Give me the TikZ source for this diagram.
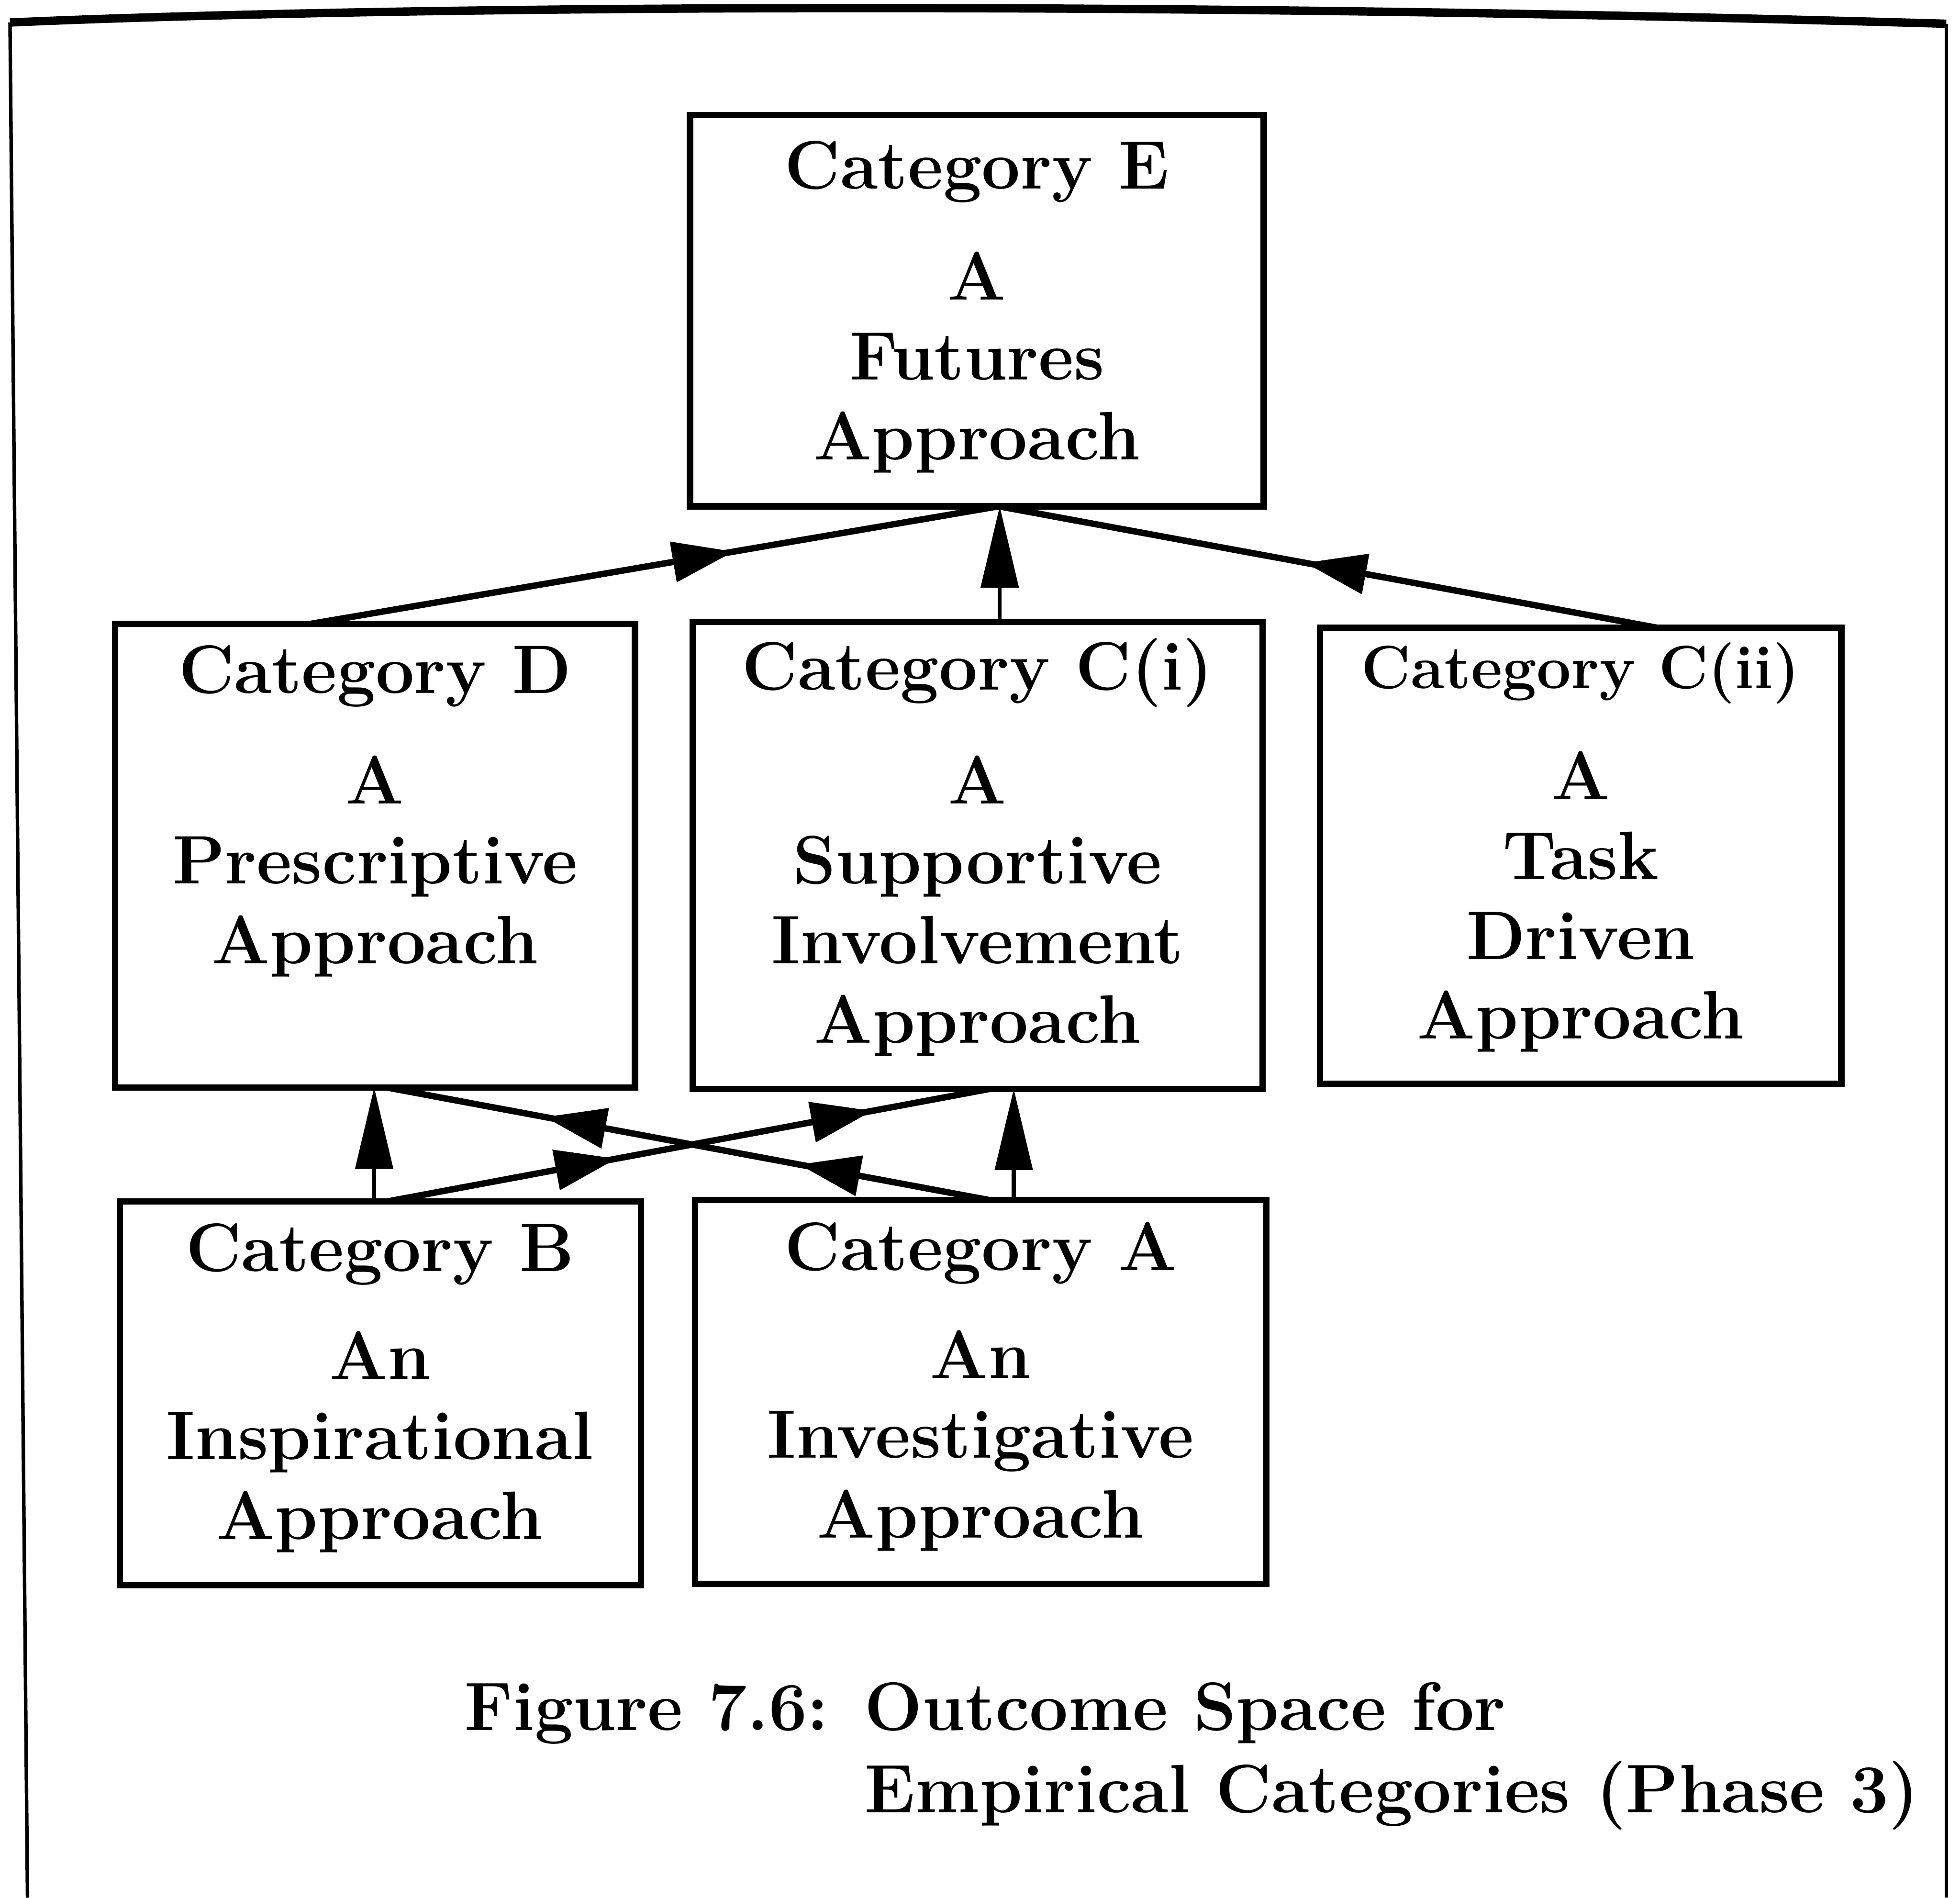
\documentclass[tikz,border=0pt]{standalone}
\usetikzlibrary{arrows.meta,decorations.markings,calc,fit}
\begin{document}
\begin{tikzpicture}[x=0.01cm,y=-0.01cm,
  box/.style={draw, line width=1.45pt, inner sep=0pt, outer sep=0pt, rectangle},
  ttl/.style={anchor=base, inner sep=0pt, font=\fontsize{15.6}{18.15}\selectfont\bfseries},
  ttlsmall/.style={ttl, font=\fontsize{13.9}{18.15}\selectfont\bfseries},
  body/.style={anchor=north, inner sep=0pt, align=center, font=\fontsize{15.6}{18.15}\selectfont\bfseries},
  capt/.style={anchor=base west, inner sep=0pt, font=\fontsize{15.6}{18.15}\selectfont\bfseries},
  frame/.style={line width=0.8pt},
  vlink/.style={line width=0.9pt, -{Triangle[length=18.5pt,width=8.5pt]}},
  dlink/.style={line width=1.45pt},
  midhead/.style={postaction={decorate}, decoration={markings,
      mark=at position #1 with {\arrow{Triangle[length=14pt,width=9pt]}}}},
]
\useasboundingbox (0,0) rectangle (1568,1518);

% outer frame, open at the bottom
\coordinate (frTL) at (8,18);
\coordinate (frTR) at (1557,19);
\coordinate (frBL) at (22,1518);
\coordinate (frBR) at (1557,1518);
\draw[line width=1.9pt] (frTL) .. controls (300,5) and (900,0) .. (frTR);
\draw[frame] (frTL) -- (frBL);
\draw[frame] (frTR) -- (frBR);

% category boxes
\node[box, fit={(552,92) (1011,405)}] (E) {};
\node[box, fit={(92,499) (508,870)}] (D) {};
\node[box, fit={(554,497.5) (1010,871)}] (Ci) {};
\node[box, fit={(1056,502) (1473,867)}] (Cii) {};
\node[box, fit={(96,961) (512.7,1268)}] (B) {};
\node[box, fit={(556,960) (1013,1267)}] (A) {};

% box texts
\node[ttl] (Et) at (781.5,151) {Category E};
\node[body] (Eb) at (781.5,200.9) {A\\Futures\\Approach};
\node[ttl] (Dt) at (300,554.6) {Category D};
\node[body] (Db) at (300,603.9) {A\\Prescriptive\\Approach};
\node[ttl] (Cit) at (782,552) {Category C(i)};
\node[body] (Cib) at (782,603.9) {A\\Supportive\\Involvement\\Approach};
\node[ttlsmall] (Ciit) at (1264.5,550.6) {Category C(ii)};
\node[body] (Ciib) at (1264.5,600.4) {A\\Task\\Driven\\Approach};
\node[ttl] (Bt) at (304,1017) {Category B};
\node[body] (Bb) at (304,1064.4) {An\\Inspirational\\Approach};
\node[ttl] (At) at (784.5,1016) {Category A};
\node[body] (Ab) at (784.5,1063.4) {An\\Investigative\\Approach};

% caption
\node[capt] (cap1) at (371,1384) {Figure 7.6:};
\node[capt] (cap2) at (691,1384) {Outcome Space for};
\node[capt] (cap3) at (691,1450) {Empirical Categories (Phase 3)};

% attachment points on the box edges
\coordinate (eIn)  at ($(E.south west)!0.538!(E.south east)$);
\coordinate (dTop) at ($(D.north west)!0.377!(D.north east)$);
\coordinate (ciTop) at ($(Ci.north west)!0.539!(Ci.north east)$);
\coordinate (ciiTop) at ($(Cii.north west)!0.645!(Cii.north east)$);
\coordinate (bTop) at ($(B.north west)!0.488!(B.north east)$);
\coordinate (aTop) at ($(A.north west)!0.558!(A.north east)$);
\coordinate (aTopX) at ($(A.north west)!0.516!(A.north east)$);
\coordinate (dBot) at ($(D.south west)!0.524!(D.south east)$);
\coordinate (bTopX) at ($(B.north west)!0.514!(B.north east)$);
\coordinate (ciBot) at ($(Ci.south west)!0.522!(Ci.south east)$);

% links into Category E
\draw[dlink, midhead=0.615] (dTop) -- (eIn);
\draw[vlink] (ciTop) -- (ciTop |- E.south);
\draw[dlink, midhead=0.534] (ciiTop) -- (eIn);

% links between the lower rows
\draw[vlink] (bTop) -- (bTop |- D.south);
\draw[vlink] (aTop) -- (aTop |- Ci.south);
\draw[dlink, postaction={decorate}, decoration={markings,
    mark=at position 0.317 with {\arrow{Triangle[length=14pt,width=9pt]}},
    mark=at position 0.739 with {\arrow{Triangle[length=14pt,width=9pt]}}}]
  (aTopX) -- (dBot);
\draw[dlink, postaction={decorate}, decoration={markings,
    mark=at position 0.38 with {\arrow{Triangle[length=14pt,width=9pt]}},
    mark=at position 0.805 with {\arrow{Triangle[length=14pt,width=9pt]}}}]
  (bTopX) -- (ciBot);
\end{tikzpicture}
\end{document}
